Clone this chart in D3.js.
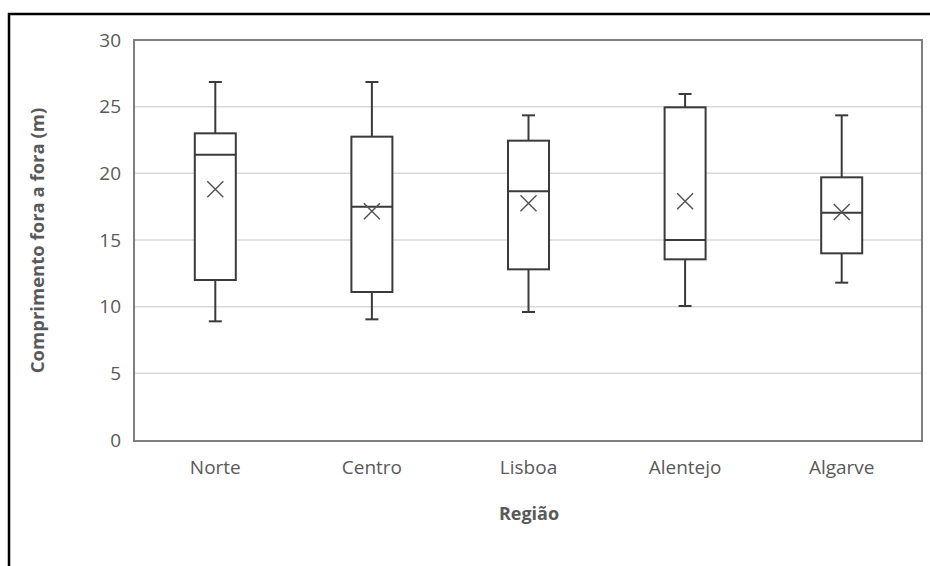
<!DOCTYPE html>
<html>
<head>
<meta charset="utf-8">
<script src="https://cdn.jsdelivr.net/npm/d3@7/dist/d3.min.js"></script>
<style>
  html, body { margin: 0; padding: 0; background: #fff; }
  svg { display: block; }
</style>
</head>
<body>
<svg id="chart" width="930" height="566"></svg>
<script>
// ---- Data ----
const categories = ["Norte", "Centro", "Lisboa", "Alentejo", "Algarve"];
const whiskerLow  = [8.9, 9.05, 9.6, 10.05, 11.8];
const q1          = [12.0, 11.1, 12.8, 13.55, 14.0];
const median      = [21.4, 17.5, 18.65, 15.0, 17.05];
const q3          = [23.0, 22.75, 22.45, 24.95, 19.7];
const whiskerHigh = [26.85, 26.85, 24.35, 25.95, 24.35];
const mean        = [18.8, 17.15, 17.75, 17.9, 17.1];
const yTicks = [0, 5, 10, 15, 20, 25, 30];
const xTitle = "Região";
const yTitle = "Comprimento fora a fora (m)";

// ---- Layout ----
const svg = d3.select("#chart");
const plot = { left: 134, right: 922, top: 40, bottom: 441 };
const font = "'Open Sans', 'Noto Sans', sans-serif";
const textColor = "#595959";

// Outer frame (cropped at right/bottom)
svg.append("rect")
  .attr("x", 9).attr("y", 14)
  .attr("width", 1000).attr("height", 1000)
  .attr("fill", "none").attr("stroke", "#000").attr("stroke-width", 2.5);

const x = d3.scaleBand().domain(categories).range([137, 920]).paddingInner(0).paddingOuter(0);
const y = d3.scaleLinear().domain([0, 30]).range([plot.bottom - 1, plot.top]);

// Gridlines
svg.append("g").selectAll("line")
  .data(yTicks.filter(t => t > 0 && t < 30))
  .join("line")
  .attr("x1", plot.left).attr("x2", plot.right)
  .attr("y1", d => y(d)).attr("y2", d => y(d))
  .attr("stroke", "#d9d9d9").attr("stroke-width", 1.5);

// Plot frame
svg.append("rect")
  .attr("x", plot.left).attr("y", plot.top)
  .attr("width", plot.right - plot.left).attr("height", plot.bottom - plot.top)
  .attr("fill", "none").attr("stroke", "#7f7f7f").attr("stroke-width", 2);

// Y axis labels
const yAxis = d3.axisLeft(y).tickValues(yTicks).tickSize(0).tickPadding(0).tickFormat(d3.format("d"));
const ya = svg.append("g").attr("transform", `translate(${plot.left - 13},0)`).call(yAxis);
ya.select(".domain").remove();
ya.selectAll("text")
  .attr("font-family", font).attr("font-size", 19).attr("fill", textColor);

// X axis labels
const xAxis = d3.axisBottom(x).tickSize(0).tickPadding(0);
const xa = svg.append("g").attr("transform", `translate(0,${plot.bottom + 19})`).call(xAxis);
xa.select(".domain").remove();
xa.selectAll("text")
  .attr("font-family", font).attr("font-size", 19).attr("fill", textColor);

// Axis titles
svg.append("text")
  .attr("x", (plot.left + plot.right) / 2 + 1).attr("y", 520)
  .attr("text-anchor", "middle")
  .attr("font-family", font).attr("font-size", 18).attr("font-weight", "bold")
  .attr("fill", textColor).text(xTitle);

svg.append("text")
  .attr("transform", `translate(44,${(plot.top + plot.bottom) / 2}) rotate(-90)`)
  .attr("text-anchor", "middle")
  .attr("font-family", font).attr("font-size", 18.5).attr("font-weight", "bold")
  .attr("fill", textColor).text(yTitle);

// Boxes
const boxW = 41, capW = 13, xSize = 8;
const stroke = "#3a3a3a";
const data = categories.map((c, i) => ({
  c, lo: whiskerLow[i], q1: q1[i], med: median[i], q3: q3[i], hi: whiskerHigh[i], mean: mean[i]
}));

const g = svg.append("g").selectAll("g").data(data).join("g")
  .attr("transform", d => `translate(${x(d.c) + x.bandwidth() / 2},0)`);

// whiskers
g.append("line").attr("x1", 0).attr("x2", 0)
  .attr("y1", d => y(d.hi)).attr("y2", d => y(d.q3))
  .attr("stroke", stroke).attr("stroke-width", 2);
g.append("line").attr("x1", 0).attr("x2", 0)
  .attr("y1", d => y(d.q1)).attr("y2", d => y(d.lo))
  .attr("stroke", stroke).attr("stroke-width", 2);
g.append("line").attr("x1", -capW / 2).attr("x2", capW / 2)
  .attr("y1", d => y(d.hi)).attr("y2", d => y(d.hi))
  .attr("stroke", stroke).attr("stroke-width", 2);
g.append("line").attr("x1", -capW / 2).attr("x2", capW / 2)
  .attr("y1", d => y(d.lo)).attr("y2", d => y(d.lo))
  .attr("stroke", stroke).attr("stroke-width", 2);

// box
g.append("rect")
  .attr("x", -boxW / 2).attr("width", boxW)
  .attr("y", d => y(d.q3)).attr("height", d => y(d.q1) - y(d.q3))
  .attr("fill", "#fff").attr("stroke", stroke).attr("stroke-width", 2);

// median
g.append("line").attr("x1", -boxW / 2).attr("x2", boxW / 2)
  .attr("y1", d => y(d.med)).attr("y2", d => y(d.med))
  .attr("stroke", stroke).attr("stroke-width", 2);

// mean marker X
g.append("path")
  .attr("d", d => {
    const cy = y(d.mean);
    return `M${-xSize},${cy - xSize}L${xSize},${cy + xSize}M${-xSize},${cy + xSize}L${xSize},${cy - xSize}`;
  })
  .attr("stroke", "#555").attr("stroke-width", 1.5).attr("fill", "none");
</script>
</body>
</html>
